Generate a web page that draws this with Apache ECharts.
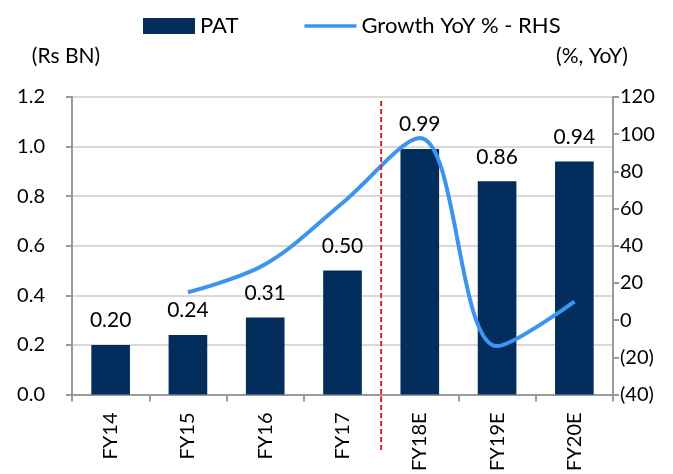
<!DOCTYPE html>
<html>
<head>
<meta charset="utf-8">
<script src="https://cdn.jsdelivr.net/npm/echarts@6/dist/echarts.min.js"></script>
<style>
  html, body { margin: 0; padding: 0; background: #fff; }
  #chart { width: 673px; height: 474px; }
</style>
</head>
<body>
<div id="chart"></div>
<script>
// data
const categories = ['FY14', 'FY15', 'FY16', 'FY17', 'FY18E', 'FY19E', 'FY20E'];
const patValues = [0.20, 0.24, 0.31, 0.50, 0.99, 0.86, 0.94];
const growthValues = [null, 15, 30, 63, 98, -14, 10];
const leftTicks = { min: 0, max: 1.2, interval: 0.2 };
const rightTicks = { min: -40, max: 120, interval: 20 };

const FONT = 'Lato';
const TEXT = '#000';
const AXIS_GREY = '#9a9a9a';

const chart = echarts.init(document.getElementById('chart'));

const option = {
  backgroundColor: '#fff',
  animation: false,
  textStyle: { fontFamily: FONT, color: TEXT },
  legend: {
    top: 10,
    left: 138,
    itemGap: 66,
    itemWidth: 52,
    itemHeight: 16,
    textStyle: { fontFamily: FONT, fontSize: 22, color: TEXT },
    data: [
      { name: 'PAT', icon: 'rect' },
      { name: 'Growth YoY % - RHS', icon: 'path://M0,0H100V7H0Z', itemStyle: { color: '#3d94ee' } }
    ]
  },
  grid: {
    left: 72,
    right: 60,
    top: 97,
    bottom: 76,
    containLabel: false
  },
  xAxis: {
    type: 'category',
    data: categories,
    axisLine: { lineStyle: { color: AXIS_GREY, width: 2 } },
    axisTick: { show: true, length: 7, lineStyle: { color: AXIS_GREY, width: 2 } },
    axisLabel: {
      rotate: 90,
      margin: 18,
      fontSize: 20,
      fontFamily: FONT,
      color: TEXT,
      interval: 0
    }
  },
  yAxis: [
    {
      type: 'value',
      min: leftTicks.min,
      max: leftTicks.max,
      interval: leftTicks.interval,
      name: '(Rs BN)',
      nameLocation: 'end',
      nameGap: 30,
      nameTextStyle: { fontFamily: FONT, fontSize: 21, color: TEXT, align: 'center', padding: [0, 12, 0, 0] },
      axisLine: { show: true, lineStyle: { color: AXIS_GREY, width: 2 } },
      axisTick: { show: true, length: 6, lineStyle: { color: AXIS_GREY, width: 2 } },
      axisLabel: {
        fontSize: 20,
        fontFamily: FONT,
        color: TEXT,
        margin: 27,
        formatter: v => v.toFixed(1)
      },
      splitLine: { lineStyle: { color: '#d9d9d9', width: 2 } }
    },
    {
      type: 'value',
      min: rightTicks.min,
      max: rightTicks.max,
      interval: rightTicks.interval,
      name: '(%, YoY)',
      nameLocation: 'end',
      nameGap: 30,
      nameTextStyle: { fontFamily: FONT, fontSize: 21, color: TEXT, align: 'center', padding: [0, 42, 0, 0] },
      axisLine: { show: true, lineStyle: { color: AXIS_GREY, width: 2 } },
      axisTick: { show: true, length: 6, lineStyle: { color: AXIS_GREY, width: 2 } },
      axisLabel: {
        fontSize: 20,
        fontFamily: FONT,
        color: TEXT,
        margin: 7,
        formatter: v => (v < 0 ? '(' + Math.abs(v) + ')' : String(v))
      },
      splitLine: { show: false }
    }
  ],
  series: [
    {
      name: 'PAT',
      type: 'bar',
      yAxisIndex: 0,
      barWidth: '50%',
      itemStyle: { color: '#032d5c' },
      label: {
        show: true,
        position: 'top',
        distance: 14,
        fontSize: 21,
        fontFamily: FONT,
        color: TEXT,
        formatter: p => p.value.toFixed(2)
      },
      data: patValues
    },
    {
      name: 'Growth YoY % - RHS',
      type: 'line',
      yAxisIndex: 1,
      smooth: 0.35,
      showSymbol: false,
      symbol: 'none',
      lineStyle: { color: '#3d94ee', width: 4 },
      itemStyle: { color: '#3d94ee' },
      z: 5,
      data: growthValues
    }
  ]
};

chart.setOption(option);

// red dashed divider between actuals and estimates
const xA = chart.convertToPixel({ xAxisIndex: 0 }, 'FY17');
const xB = chart.convertToPixel({ xAxisIndex: 0 }, 'FY18E');
const yTop = chart.convertToPixel({ yAxisIndex: 0 }, leftTicks.max);
const xMid = (xA + xB) / 2;

chart.setOption({
  graphic: [
    {
      type: 'line',
      z: 10,
      shape: { x1: xMid, y1: yTop + 4, x2: xMid, y2: 451 },
      style: { stroke: '#d9261c', lineWidth: 2, lineDash: [5, 3] }
    }
  ]
});
</script>
</body>
</html>
